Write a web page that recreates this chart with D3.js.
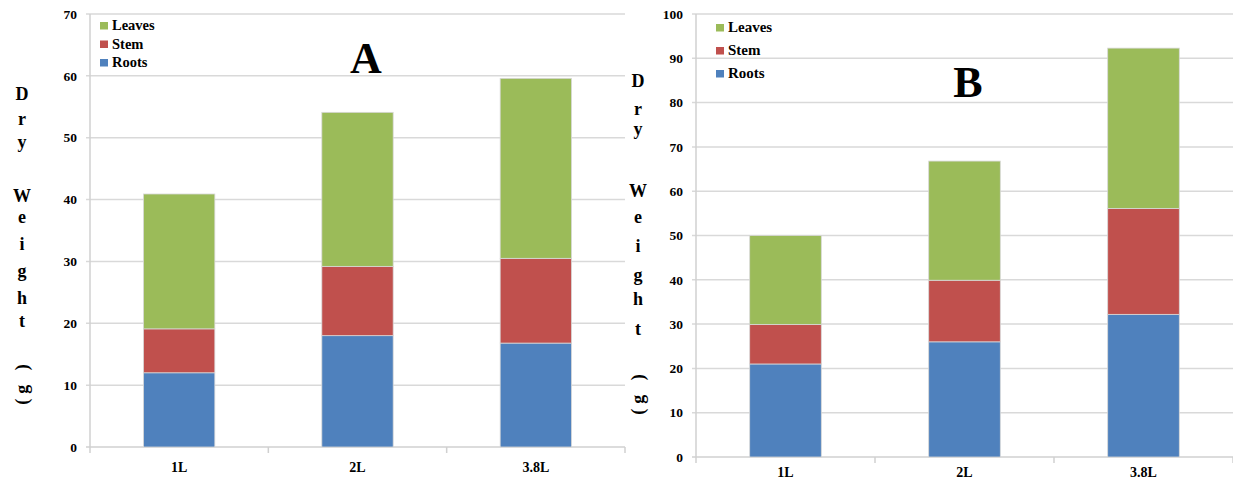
<!DOCTYPE html>
<html><head><meta charset="utf-8">
<script src="https://cdn.jsdelivr.net/npm/d3@7"></script>
<style>body{margin:0;background:#fff}svg{display:block}text{font-family:"Liberation Serif","Times New Roman",serif;font-weight:bold;fill:#000}</style>
</head><body>
<svg id="c" width="1233" height="479"></svg>
<script>
const categories = ["1L", "2L", "3.8L"];
const seriesNames = ["Roots", "Stem", "Leaves"];
const legendOrder = ["Leaves", "Stem", "Roots"];
const colors = ["#4F81BD", "#C0504D", "#9BBB59"];
// Panel A
const rootsA = [12, 18, 16.8];
const stemA = [7.1, 11.2, 13.7];
const leavesA = [21.8, 24.9, 29.1];
const ticksA = [0, 10, 20, 30, 40, 50, 60, 70];
// Panel B
const rootsB = [21, 26, 32.2];
const stemB = [8.9, 13.9, 23.9];
const leavesB = [20.1, 26.9, 36.2];
const ticksB = [0, 10, 20, 30, 40, 50, 60, 70, 80, 90, 100];

const svg = d3.select("#c");

function panel(cfg) {
  const g = svg.append("g");
  const x = d3.scaleBand().domain(categories).range([cfg.x0, cfg.x1]).paddingInner(0.6).paddingOuter(0.3);
  const y = d3.scaleLinear().domain([0, cfg.max]).range([cfg.y0, cfg.yTop]);
  g.selectAll(".grid").data(cfg.ticks.filter(t => t > 0)).enter().append("line")
    .attr("x1", cfg.x0 - 4).attr("x2", cfg.x1).attr("y1", d => y(d)).attr("y2", d => y(d))
    .attr("stroke", "#d9d9d9").attr("stroke-width", 1.5);
  g.append("line").attr("x1", cfg.x0).attr("x2", cfg.x0).attr("y1", y(cfg.max)).attr("y2", cfg.y0)
    .attr("stroke", "#d0d0d0").attr("stroke-width", 1.5);
  g.append("line").attr("x1", cfg.x0 - 4).attr("x2", cfg.x1).attr("y1", cfg.y0).attr("y2", cfg.y0)
    .attr("stroke", "#d0d0d0").attr("stroke-width", 1.5);
  const step = x.step();
  g.selectAll(".xt").data(d3.range(categories.length + 1)).enter().append("line")
    .attr("x1", i => cfg.x0 + i * step).attr("x2", i => cfg.x0 + i * step)
    .attr("y1", cfg.y0).attr("y2", cfg.y0 + 6).attr("stroke", "#d0d0d0").attr("stroke-width", 1.5);
  g.selectAll(".yl").data(cfg.ticks).enter().append("text")
    .attr("x", cfg.x0 - 13).attr("y", d => y(d)).attr("dy", "0.35em")
    .attr("text-anchor", "end").style("font-size", "13.5px").text(d => d);
  g.selectAll(".xl").data(categories).enter().append("text")
    .attr("x", d => x(d) + x.bandwidth() / 2).attr("y", cfg.xLabelY)
    .attr("text-anchor", "middle").style("font-size", "14px").text(d => d);
  const rows = categories.map((c, i) => ({cat: c, Roots: cfg.roots[i], Stem: cfg.stem[i], Leaves: cfg.leaves[i]}));
  const stacked = d3.stack().keys(seriesNames)(rows);
  stacked.forEach((s, si) => {
    g.selectAll(null).data(s).enter().append("rect")
      .attr("x", d => x(d.data.cat)).attr("width", x.bandwidth())
      .attr("y", d => y(d[1])).attr("height", d => y(d[0]) - y(d[1]))
      .attr("fill", colors[si]).attr("stroke", "#d8d8d8").attr("stroke-width", 0.8);
  });
  legendOrder.forEach((name, i) => {
    const col = colors[seriesNames.indexOf(name)];
    g.append("rect").attr("x", cfg.legX).attr("y", cfg.legY + i * cfg.legStep - 8)
      .attr("width", 8).attr("height", 7.5).attr("fill", col);
    g.append("text").attr("x", cfg.legX + 12).attr("y", cfg.legY + i * cfg.legStep)
      .style("font-size", cfg.legFont + "px").text(name);
  });
  g.append("text").attr("x", cfg.titleX).attr("y", cfg.titleY).attr("text-anchor", "middle")
    .style("font-size", "44px").text(cfg.title);
  const letters = ["D", "r", "y", "W", "e", "i", "g", "h", "t"];
  letters.forEach((ch, i) => {
    g.append("text").attr("x", cfg.labX).attr("y", cfg.labYs[i]).attr("text-anchor", "middle")
      .style("font-size", "18px").text(ch);
  });
  g.append("text").attr("transform", `translate(${cfg.labX + 6},${cfg.unitY}) rotate(-90)`)
    .attr("text-anchor", "middle").style("font-size", "18px").style("letter-spacing", "5px").text("(g )");
}

panel({x0: 90, x1: 625, y0: 447, yTop: 14, max: 70, ticks: ticksA,
  roots: rootsA, stem: stemA, leaves: leavesA, xLabelY: 472,
  legX: 100, legY: 30, legStep: 18.5, legFont: 14.5,
  title: "A", titleX: 366, titleY: 73,
  labX: 22, labYs: [100, 125, 148, 202, 223, 250, 277, 304, 327], unitY: 382});

panel({x0: 696, x1: 1233, y0: 457, yTop: 14, max: 100, ticks: ticksB,
  roots: rootsB, stem: stemB, leaves: leavesB, xLabelY: 477,
  legX: 716, legY: 32, legStep: 23, legFont: 15,
  title: "B", titleX: 968, titleY: 97,
  labX: 638, labYs: [87, 115, 135, 197, 223, 252, 281, 305, 335], unitY: 392});
</script>
</body></html>
